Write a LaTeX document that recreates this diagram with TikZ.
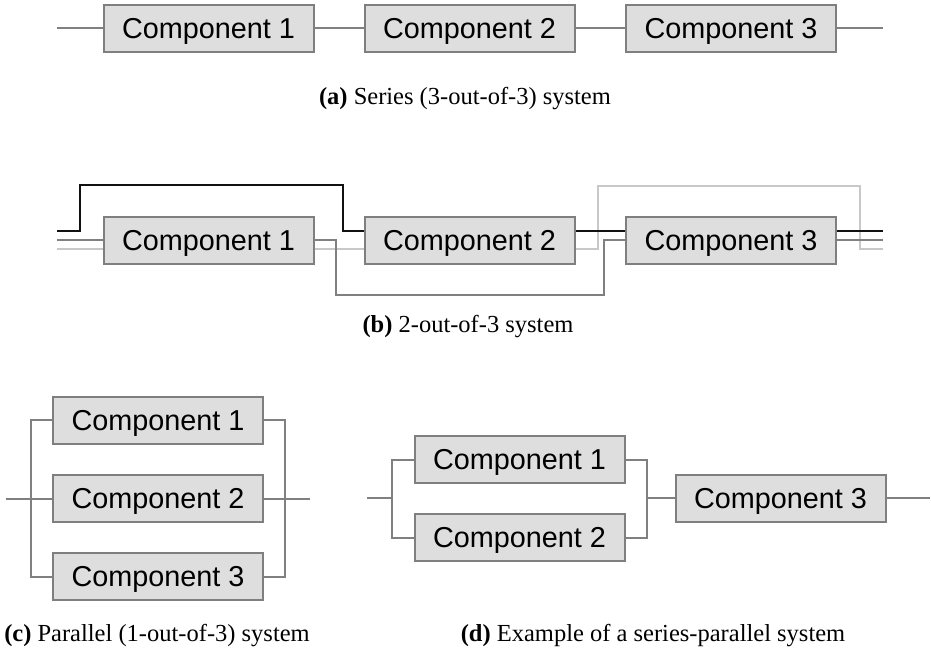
\documentclass[tikz,border=0pt]{standalone}
\usepackage{fontspec}
\setmainfont{Liberation Serif}
\newfontfamily\compfont{Liberation Sans}
\usepackage{xcolor}
\usepackage{tikz}
\usetikzlibrary{calc}

\definecolor{boxfill}{HTML}{DEDEDE}
\definecolor{boxline}{HTML}{7F7F7F}
\definecolor{wiregray}{HTML}{808080}
\definecolor{wirelight}{HTML}{C8C8C8}
\definecolor{wiredark}{HTML}{111111}

\tikzset{
	comp/.style={draw=boxline, fill=boxfill, line width=2pt, inner sep=0pt,
		minimum width=210pt, minimum height=47pt, text depth=0pt,
		font=\compfont\fontsize{28.8}{32}\selectfont},
	wire/.style={draw=wiregray, line width=2pt},
	caption/.style={font=\fontsize{24.5}{28}\selectfont}
}

\begin{document}
\begin{tikzpicture}[x=1pt,y=-1pt]
		\useasboundingbox (0,0) rectangle (931,654);
		%
		% (a) series
		\node[comp] (a1) at (208.5,28) {Component 1};
		\node[comp] (a2) at (469.5,28) {Component 2};
		\node[comp] (a3) at (731,28) {Component 3};
		\coordinate (aIn) at (57,28);
		\coordinate (aOut) at (883,28);
		\path[wire]
		(aIn) edge (a1)
		(a1) edge (a2)
		(a2) edge (a3)
		(a3) edge (aOut);
		\node[caption] (capA) at (465,99) {\textbf{(a)} Series (3-out-of-3) system};
		%
		% (b) 2-out-of-3
		\node[comp] (b1) at (208.5,240) {Component 1};
		\node[comp] (b2) at (469.5,240) {Component 2};
		\node[comp] (b3) at (731,240) {Component 3};
		\coordinate (bInK) at (57,231);
		\coordinate (bInD) at (57,240);
		\coordinate (bInL) at (57,249);
		\coordinate (bOutK) at (883,231);
		\coordinate (bOutD) at (883,240);
		\coordinate (bOutL) at (883,249);
		% 1-2 path
		\draw[wire, draw=wirelight] (bInL) -- (b1.west |- bInL);
		\draw[wire, draw=wirelight] (b1.east |- bInL) -- (b2.west |- bInL);
		\draw[wire, draw=wirelight] (b2.east |- bInL) -- (598,249) |- (860,186) |- (bOutL);
		% 1-3 path
		\draw[wire] (bInD) -- (b1.west);
		\draw[wire] (b1.east) -- (336,240) |- (604,295) |- (b3.west);
		\draw[wire] (b3.east) -- (bOutD);
		% 2-3 path
		\draw[wire, draw=wiredark] (bInK) -- (80,231) |- (343,185) |- (b2.west |- bInK);
		\draw[wire, draw=wiredark] (b2.east |- bInK) -- (b3.west |- bInK);
		\draw[wire, draw=wiredark] (b3.east |- bInK) -- (bOutK);
		\node[caption] (capB) at (468,327) {\textbf{(b)} 2-out-of-3 system};
		%
		% (c) parallel
		\node[comp] (c1) at (158,420) {Component 1};
		\node[comp] (c2) at (158,498.5) {Component 2};
		\node[comp] (c3) at (158,576.5) {Component 3};
		\coordinate (cIn) at (6,498.5);
		\coordinate (cOut) at (310,498.5);
		\draw[wire] (c1.west) -- (31,420) -- (31,576.5) -- (c3.west);
		\draw[wire] (cIn) -- (c2.west);
		\draw[wire] (c1.east) -- (285,420) -- (285,576.5) -- (c3.east);
		\draw[wire] (c2.east) -- (cOut);
		\node[caption] (capC) at (157,636) {\textbf{(c)} Parallel (1-out-of-3) system};
		%
		% (d) series-parallel
		\node[comp] (d1) at (519.5,459.5) {Component 1};
		\node[comp] (d2) at (519.5,537.5) {Component 2};
		\node[comp] (d3) at (780.5,498) {Component 3};
		\coordinate (dIn) at (367,498);
		\coordinate (dOut) at (930,498);
		\draw[wire] (d1.west) -| (392,537.5) -- (d2.west);
		\draw[wire] (dIn) -- (392,498);
		\draw[wire] (d1.east) -| (647,537.5) -- (d2.east);
		\draw[wire] (647,498) -- (d3.west);
		\draw[wire] (d3.east) -- (dOut);
		\node[caption] (capD) at (653,636) {\textbf{(d)} Example of a series-parallel system};
\end{tikzpicture}
\end{document}
